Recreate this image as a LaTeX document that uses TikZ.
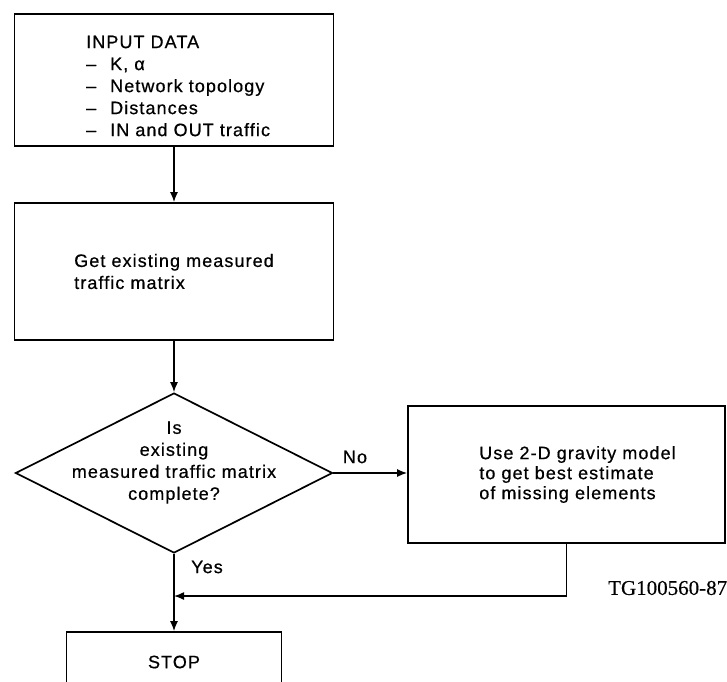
\documentclass[tikz,border=0pt]{standalone}
\usepackage{fontspec}
\setmainfont{Liberation Sans}[LetterSpace=6,FakeBold=0.6]
\newfontfamily\tagfont{Liberation Serif}[FakeBold=0.4]
\usetikzlibrary{shapes.geometric,arrows.meta,calc}

\begin{document}
\begin{tikzpicture}[x=1pt,y=-1pt,
  box/.style={draw, line width=1.8pt, rectangle, inner sep=0pt},
  txt/.style={font=\fontsize{18}{22}\selectfont, align=left, inner sep=0pt},
  flow/.style={line width=1.4pt, -{Latex[length=10pt,width=8pt]}}]
\fill[white] (0,0) rectangle (727,681);
\useasboundingbox (0,0) rectangle (727,681);
\clip (0,0) rectangle (727,681);

% process boxes
\node[box, minimum width=319pt, minimum height=132pt] (input) at (174,80) {};
\node[txt, anchor=west] (inputtxt) at (86,86)
  {INPUT DATA\\
   \makebox[24pt][l]{--}K, α\\
   \makebox[24pt][l]{--}Network topology\\
   \makebox[24pt][l]{--}Distances\\
   \makebox[24pt][l]{--}IN and OUT traffic};

\node[box, txt, minimum width=319pt, minimum height=137pt] (getm) at (174,271.5)
  {Get existing measured\\traffic matrix};

% decision
\node[draw, diamond, line width=1.7pt, minimum width=317pt, minimum height=160pt,
      inner sep=0pt] (check) at (174,473) {};
\node[txt, align=center] (checktxt) at ([yshift=10.5pt]check.center)
  {Is\\existing\\measured traffic matrix\\complete?};

\node[box, minimum width=317pt, minimum height=137pt] (gravity) at (566.5,474.5) {};
\node[txt, anchor=west, font=\fontsize{18}{20}\selectfont] (gravtxt)
  at ([xshift=72pt]gravity.west)
  {Use 2-D gravity model\\to get best estimate\\of missing elements};

\node[box, txt, minimum width=215pt, minimum height=60pt] (stop) at (174,662) {STOP};

% branch labels and figure tag
\node[txt] (nolbl) at (355,457) {No};
\node[txt] (yeslbl) at (207,567) {Yes};
\node[font=\tagfont\fontsize{21}{24}\selectfont, anchor=west, inner sep=0pt] (tag)
  at (608,588) {TG100560-87};

% connectors
\draw[flow] (input.south) -- (getm.north);
\draw[flow] (getm.south) -- (check.north);
\draw[flow] (check.east) -- (check.east -| gravity.west);
\draw[flow] (check.south) -- (stop.north);
\coordinate (lvl) at (0,596);
\coordinate (merge) at (check.south |- lvl);
\draw[flow] (gravity.south) |- (merge);
\end{tikzpicture}
\end{document}
